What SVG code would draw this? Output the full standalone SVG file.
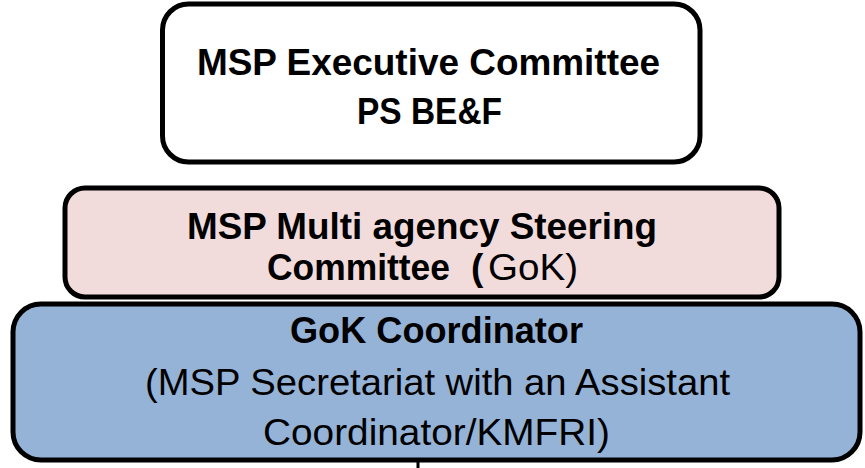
<svg xmlns="http://www.w3.org/2000/svg" width="865" height="468" viewBox="0 0 865 468">
  <style>
    .box { stroke: #000; stroke-width: 5; }
    .t { font-family: "Liberation Sans", Arial, sans-serif; font-size: 37px; fill: #000; }
    .b { font-weight: bold; }
    .n { font-weight: normal; }
  </style>
  <rect width="865" height="468" fill="#fff"/>

  <!-- top tier -->
  <g id="executive-committee">
    <rect class="box" x="162.5" y="4" width="537.5" height="158" rx="26" fill="#fff"/>
    <text class="t b">
      <tspan x="197" y="75" textLength="463" lengthAdjust="spacingAndGlyphs">MSP Executive Committee</tspan>
      <tspan x="357" y="124" textLength="145" lengthAdjust="spacingAndGlyphs">PS BE&amp;F</tspan>
    </text>
  </g>

  <!-- middle tier -->
  <g id="steering-committee">
    <rect class="box" x="65" y="188" width="714" height="109" rx="20" fill="#f2dcdb"/>
    <text class="t b">
      <tspan x="187" y="239" textLength="470" lengthAdjust="spacingAndGlyphs">MSP Multi agency Steering</tspan>
      <tspan x="267" y="280" textLength="183" lengthAdjust="spacingAndGlyphs">Committee</tspan>
      <tspan x="471" y="280">(</tspan>
      <tspan class="n" x="488" y="280" textLength="90" lengthAdjust="spacingAndGlyphs">GoK)</tspan>
    </text>
  </g>

  <!-- bottom tier -->
  <g id="coordinator">
    <rect class="box" x="13" y="304" width="847" height="156" rx="28" fill="#95b3d7"/>
    <text class="t">
      <tspan class="b" x="290" y="343" textLength="293" lengthAdjust="spacingAndGlyphs">GoK Coordinator</tspan>
      <tspan x="145" y="395" textLength="585" lengthAdjust="spacingAndGlyphs">(MSP Secretariat with an Assistant</tspan>
      <tspan x="263" y="445" textLength="347" lengthAdjust="spacingAndGlyphs">Coordinator/KMFRI)</tspan>
    </text>
  </g>

  <g id="connectors">
    <line x1="418" y1="462" x2="418" y2="468" stroke="#000" stroke-width="3"/>
  </g>
</svg>
